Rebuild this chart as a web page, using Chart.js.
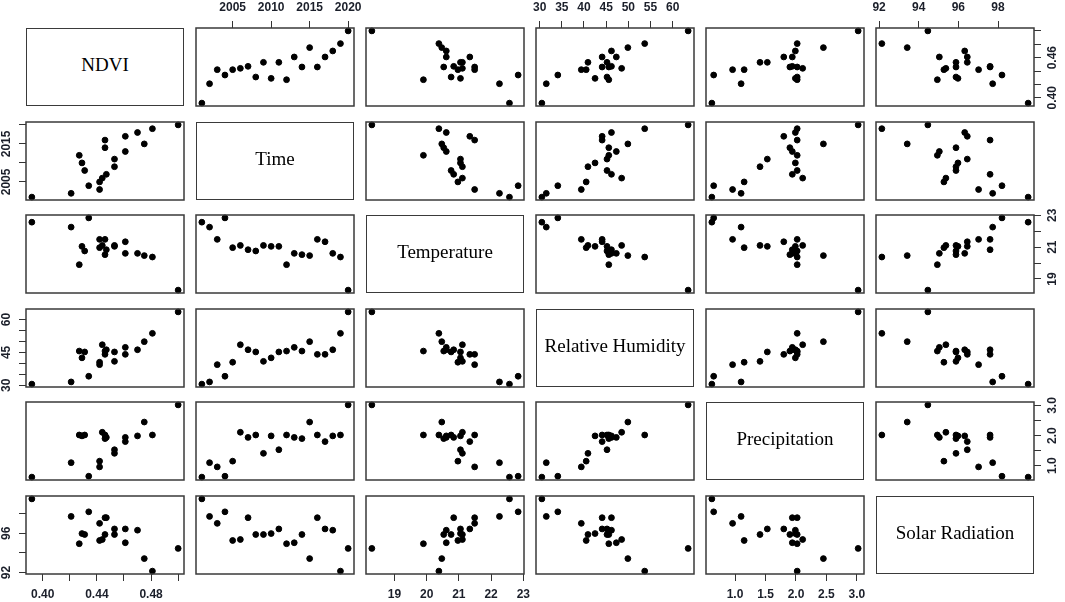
<!DOCTYPE html>
<html>
<head>
<meta charset="utf-8">
<script src="https://cdn.jsdelivr.net/npm/chart.js@4.4.0/dist/chart.umd.min.js"></script>
<style>
  html, body { margin: 0; padding: 0; background: #fff; }
  #wrap { position: relative; width: 1065px; height: 602px; overflow: hidden; }
  #wrap canvas { position: absolute; }
  .diag {
    position: absolute; box-sizing: border-box; border: 1.5px solid #3a3a3a;
    display: flex; align-items: center; justify-content: center; padding-bottom: 5px;
    font-family: "Liberation Serif", "DejaVu Serif", serif; font-size: 19px; color: #000;
  }
</style>
</head>
<body>
<div id="wrap"></div>
<script>
// one observation per year
const years = [2001, 2002, 2003, 2004, 2005, 2006, 2007, 2008, 2009, 2010,
               2011, 2012, 2013, 2014, 2015, 2016, 2017, 2018, 2019, 2020];
const ndvi = [0.392, 0.421, 0.442, 0.434, 0.442, 0.444, 0.447, 0.431, 0.453, 0.429,
              0.453, 0.427, 0.461, 0.446, 0.475, 0.446, 0.461, 0.470, 0.481, 0.500];
const temperature = [22.57, 22.26, 21.49, 22.84, 20.97, 21.11, 20.84, 20.76, 21.11, 21.05,
                     21.05, 19.90, 20.61, 20.53, 20.47, 21.49, 21.34, 20.61, 20.38, 18.30];
const humidity = [30.5, 31.5, 39.4, 34.1, 40.5, 48.5, 46.2, 45.2, 40.9, 42.5,
                  45.2, 45.6, 47.3, 45.6, 49.9, 44.1, 44.1, 46.2, 53.7, 63.5];
const precipitation = [0.62, 1.10, 0.96, 0.65, 1.15, 2.11, 1.94, 2.02, 1.41, 1.99,
                       1.53, 2.02, 1.94, 1.90, 2.45, 2.02, 1.80, 1.99, 2.02, 3.02];
const solar = [99.52, 97.73, 97.02, 98.20, 95.27, 95.37, 97.60, 95.88, 95.88, 95.98,
               96.45, 94.94, 95.04, 95.88, 93.42, 97.60, 96.45, 96.32, 92.14, 94.46];

const varNames = ["NDVI", "Time", "Temperature", "Relative Humidity", "Precipitation", "Solar Radiation"];

// tick marks, and which of them get a label (horizontal axes / vertical axes)
const tickValues = [
  [0.40, 0.42, 0.44, 0.46, 0.48, 0.50],
  [2005, 2010, 2015, 2020],
  [19, 20, 21, 22, 23],
  [30, 35, 40, 45, 50, 55, 60],
  [1.0, 1.5, 2.0, 2.5, 3.0],
  [92, 94, 96, 98]
];
const xTickLabels = [
  [0.40, 0.44, 0.48],
  [2005, 2010, 2015, 2020],
  [19, 20, 21, 22, 23],
  [30, 35, 40, 45, 50, 55, 60],
  [1.0, 1.5, 2.0, 2.5, 3.0],
  [92, 94, 96, 98]
];
const yTickLabels = [
  [0.40, 0.46],
  [2005, 2015],
  [19, 21, 23],
  [30, 45, 60],
  [1.0, 2.0, 3.0],
  [92, 96]
];
const decimals = [2, 0, 0, 0, 1, 0];

const series = [ndvi, years, temperature, humidity, precipitation, solar];

// panel geometry
const BOX_W = 158, BOX_H = 78;
const PITCH_X = 170, PITCH_Y = 93.6;
const LEFT0 = 26, TOP0 = 28;
const PX = 40, PY = 30;
const LABEL_FONT = { family: "Liberation Sans, Arial, sans-serif", size: 12, weight: "bold" };
const INK = "#1b1f2a";

function padRange(arr) {
  const lo = Math.min(...arr), hi = Math.max(...arr), d = hi - lo;
  return [lo - 0.04 * d, hi + 0.04 * d];
}
const ranges = series.map(padRange);

function fmt(k, v) { return v.toFixed(decimals[k]); }
function hasLabel(list, v) { return list.some(t => Math.abs(t - v) < 1e-9); }

const framePlugin = {
  id: "frame",
  afterDraw(chart) {
    const a = chart.chartArea, ctx = chart.ctx;
    ctx.save();
    ctx.strokeStyle = "#3a3a3a";
    ctx.lineWidth = 1.5;
    ctx.strokeRect(a.left, a.top, a.right - a.left, a.bottom - a.top);
    ctx.restore();
  }
};

// vertical axis labels are written bottom-to-top, as R does
const yLabelPlugin = {
  id: "ylabels",
  afterDraw(chart, args, opts) {
    const s = chart.scales.y;
    if (!s.options.display) return;
    const k = opts.k, a = chart.chartArea, ctx = chart.ctx;
    const x = s.position === "left" ? a.left - 19 : a.right + 19;
    ctx.save();
    ctx.fillStyle = INK;
    ctx.font = "bold 12px 'Liberation Sans', Arial, sans-serif";
    ctx.textAlign = "center";
    ctx.textBaseline = "middle";
    yTickLabels[k].forEach(v => {
      ctx.save();
      ctx.translate(x, s.getPixelForValue(v));
      ctx.rotate(-Math.PI / 2);
      ctx.fillText(fmt(k, v), 0, 0);
      ctx.restore();
    });
    ctx.restore();
  }
};

function axisOpts(k, pos, show, horizontal) {
  return {
    type: "linear",
    position: pos,
    display: show,
    min: ranges[k][0],
    max: ranges[k][1],
    afterBuildTicks: s => { s.ticks = tickValues[k].map(v => ({ value: v })); },
    afterFit: s => {
      if (!show) return;
      if (horizontal) s.height = PY; else s.width = PX;
    },
    grid: { drawOnChartArea: false, drawTicks: true, tickLength: 7, color: "#333", lineWidth: 1 },
    border: { display: false },
    ticks: {
      display: horizontal,
      autoSkip: false,
      maxRotation: 0,
      minRotation: 0,
      padding: 6,
      color: INK,
      font: LABEL_FONT,
      callback: v => hasLabel(xTickLabels[k], v) ? fmt(k, v) : ""
    }
  };
}

const wrap = document.getElementById("wrap");

for (let r = 0; r < 6; r++) {
  for (let c = 0; c < 6; c++) {
    const boxL = Math.round(LEFT0 + c * PITCH_X);
    const boxT = Math.round(TOP0 + r * PITCH_Y);

    if (r === c) {
      const d = document.createElement("div");
      d.className = "diag";
      d.style.left = boxL + "px";
      d.style.top = boxT + "px";
      d.style.width = BOX_W + "px";
      d.style.height = BOX_H + "px";
      d.textContent = varNames[r];
      wrap.appendChild(d);
      continue;
    }

    const xTop = r === 0 && c % 2 === 1;
    const xBottom = r === 5 && c % 2 === 0;
    const yLeft = c === 0 && r % 2 === 1;
    const yRight = c === 5 && r % 2 === 0;

    const cv = document.createElement("canvas");
    cv.width = BOX_W + 2 * PX;
    cv.height = BOX_H + 2 * PY;
    cv.style.left = (boxL - PX) + "px";
    cv.style.top = (boxT - PY) + "px";
    cv.style.width = cv.width + "px";
    cv.style.height = cv.height + "px";
    wrap.appendChild(cv);

    new Chart(cv, {
      type: "scatter",
      data: {
        datasets: [{
          data: series[c].map((v, i) => ({ x: v, y: series[r][i] })),
          backgroundColor: "#000",
          borderColor: "#000",
          pointRadius: 2.9,
          pointHoverRadius: 2.9,
          clip: false
        }]
      },
      options: {
        responsive: false,
        animation: false,
        events: [],
        layout: {
          padding: {
            left: yLeft ? 0 : PX,
            right: yRight ? 0 : PX,
            top: xTop ? 0 : PY,
            bottom: xBottom ? 0 : PY
          }
        },
        plugins: {
          legend: { display: false },
          tooltip: { enabled: false },
          ylabels: { k: r }
        },
        scales: {
          x: axisOpts(c, xTop ? "top" : "bottom", xTop || xBottom, true),
          y: axisOpts(r, yLeft ? "left" : "right", yLeft || yRight, false)
        }
      },
      plugins: [framePlugin, yLabelPlugin]
    });
  }
}
</script>
</body>
</html>
